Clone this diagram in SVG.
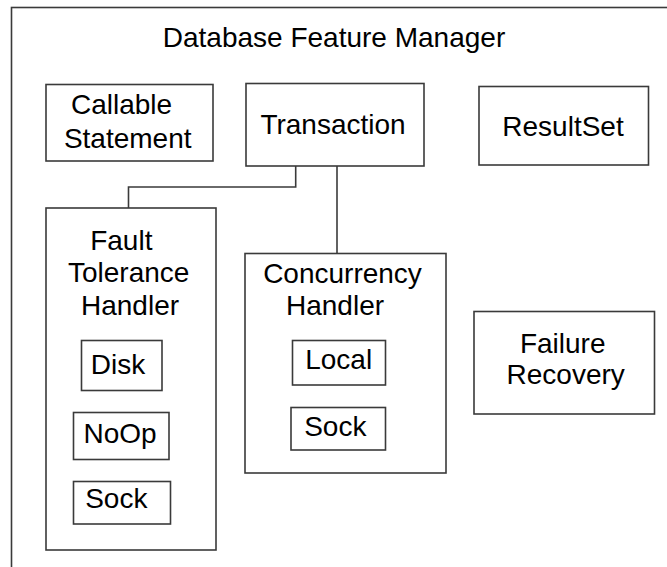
<svg xmlns="http://www.w3.org/2000/svg" width="667" height="567" viewBox="0 0 667 567">
  <style>
    .box { fill: #ffffff; stroke: #3a3a3a; stroke-width: 1.6; }
    .wire { fill: none; stroke: #3a3a3a; stroke-width: 1.6; }
    text { font-family: "Liberation Sans", Arial, sans-serif; font-size: 28px; fill: #000000; text-anchor: middle; }
  </style>
  <rect width="667" height="567" fill="#ffffff"/>

  <!-- container: runs off the right and bottom edges -->
  <g id="manager">
    <rect class="box" x="11.5" y="7.5" width="700" height="620"/>
    <text x="334" y="47">Database Feature Manager</text>
  </g>

  <!-- connectors from Transaction -->
  <g id="connectors">
    <polyline class="wire" points="295.7,166 295.7,187 128.5,187 128.5,208"/>
    <line class="wire" x1="337" y1="166" x2="337" y2="253.5"/>
  </g>

  <g id="callable-statement">
    <rect class="box" x="46" y="84.5" width="167" height="76.5"/>
    <text x="121.5" y="114.3">Callable</text>
    <text x="127.7" y="148.3">Statement</text>
  </g>

  <g id="transaction">
    <rect class="box" x="246" y="83.5" width="178" height="82.5"/>
    <text x="333" y="134.3">Transaction</text>
  </g>

  <g id="resultset">
    <rect class="box" x="479" y="86.5" width="169.5" height="78.5"/>
    <text x="563" y="136">ResultSet</text>
  </g>

  <g id="fault-tolerance-handler">
    <rect class="box" x="46" y="208" width="170" height="342"/>
    <text x="121.3" y="250">Fault</text>
    <text x="128.7" y="281.7">Tolerance</text>
    <text x="130" y="315">Handler</text>
    <g id="ft-disk">
      <rect class="box" x="81.5" y="340.5" width="80.5" height="50"/>
      <text x="118" y="374.3">Disk</text>
    </g>
    <g id="ft-noop">
      <rect class="box" x="73.5" y="412.5" width="95.5" height="47"/>
      <text x="120" y="443.3">NoOp</text>
    </g>
    <g id="ft-sock">
      <rect class="box" x="73.5" y="481.5" width="97" height="42.5"/>
      <text x="116.3" y="508.3">Sock</text>
    </g>
  </g>

  <g id="concurrency-handler">
    <rect class="box" x="245" y="253.5" width="201" height="219.5"/>
    <text x="342.5" y="283.3">Concurrency</text>
    <text x="335" y="315">Handler</text>
    <g id="ch-local">
      <rect class="box" x="292.5" y="340.5" width="93" height="44.5"/>
      <text x="338.7" y="369.3">Local</text>
    </g>
    <g id="ch-sock">
      <rect class="box" x="291" y="407.5" width="94.5" height="42.5"/>
      <text x="335.3" y="436">Sock</text>
    </g>
  </g>

  <g id="failure-recovery">
    <rect class="box" x="474" y="311.5" width="180.5" height="102.5"/>
    <text x="562.7" y="353.3">Failure</text>
    <text x="565.7" y="384.3">Recovery</text>
  </g>
</svg>
